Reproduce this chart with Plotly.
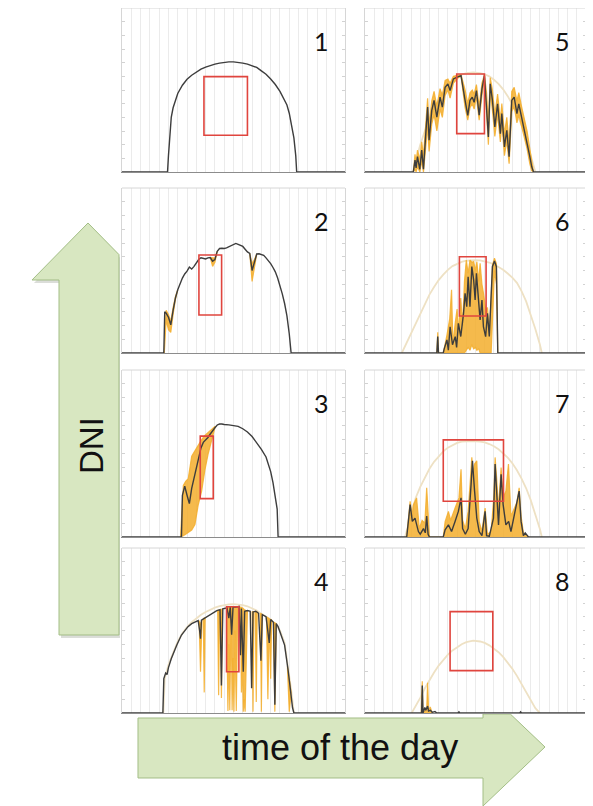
import plotly.graph_objects as go

# ---------------- data (hours of the day, DNI in W/m2) ----------------
HOUR_RANGE = [0, 24]
DNI_RANGE = [0, 1200]
PANEL_LABELS = ["1", "2", "3", "4", "5", "6", "7", "8"]

# panel 1 - clear day
P1_T = [0, 4.9, 5.0, 5.15, 5.3, 5.5, 5.75, 6.0, 6.5, 7.0, 7.5, 8.0, 8.5, 9.0, 9.5, 10.0, 10.5, 11.0, 11.5,
        12.0, 12.5, 13.0, 13.5, 14.0, 14.5, 15.0, 15.5, 16.0, 16.5, 17.0, 17.5, 17.75, 18.0, 18.25, 18.5,
        18.7, 18.8, 24]
P1_DNI = [0, 0, 120, 300, 400, 470, 530, 575, 635, 678, 708, 733, 752, 767, 779, 789, 797, 803, 806,
          806, 803, 797, 789, 778, 765, 740, 715, 680, 640, 590, 530, 490, 430, 350, 250,
          120, 0, 0]

# panel 2
P2_T = [0, 4.5, 4.6, 4.75, 5.0, 5.25, 5.5, 5.75, 6.0, 6.25, 6.5, 6.75, 7.0, 7.25, 7.5, 7.75, 8.0, 8.25,
        8.5, 8.75, 9.0, 9.25, 9.5, 9.75, 10.0, 10.25, 10.5, 10.75, 11.0, 11.25, 11.5, 11.75, 12.0, 12.25,
        12.5, 12.75, 13.0, 13.25, 13.5, 13.75, 14.0, 14.25, 14.5, 14.75, 15.0, 15.25, 15.5, 15.75, 16.0,
        16.25, 16.5, 16.75, 17.0, 17.25, 17.5, 17.75, 18.0, 18.2, 24]
P2_DNI = [0, 0, 300, 290, 260, 205, 310, 400, 460, 510, 545, 575, 595, 625, 610, 630, 655, 680,
          693, 686, 684, 692, 694, 668, 680, 740, 760, 762, 760, 765, 772, 778, 785, 797,
          790, 782, 775, 755, 735, 725, 600, 660, 720, 722, 717, 710, 692, 672, 650,
          622, 590, 545, 490, 430, 360, 270, 140, 0, 0]
# band segments are separated by None
P2_BAND_T = [4.55, 4.75, 5.0, 5.25, 5.5, 5.75, 6.0, None, 9.5, 9.75, 10.0, 10.25, None,
             13.75, 14.0, 14.25, 14.5]
P2_BAND_HI = [0, 310, 280, 230, 330, 410, 460, None, 694, 690, 690, 740, None, 725, 650, 680, 720]
P2_BAND_LO = [0, 240, 170, 150, 280, 390, 460, None, 694, 630, 660, 740, None, 725, 520, 620, 720]

# panel 3
P3_T = [0, 6.4, 6.5, 6.75, 7.0, 7.25, 7.5, 7.75, 8.0, 8.25, 8.5, 8.75, 9.0, 9.25, 9.5, 9.75, 10.0, 10.25,
        10.5, 10.75, 11.0, 11.5, 12.0, 12.5, 13.0, 13.5, 14.0, 14.5, 15.0, 15.5, 16.0, 16.25, 16.5, 16.7,
        16.8, 24]
P3_DNI = [0, 0, 300, 365, 300, 240, 350, 420, 490, 560, 640, 680, 695, 715, 740, 765, 785, 805,
          812, 812, 808, 806, 803, 795, 778, 755, 722, 680, 630, 575, 470, 390, 300, 200,
          0, 0]
P3_BAND_T = [6.3, 6.35, 6.6, 6.85, 7.13, 7.5, 7.85, 8.2, 8.57, 8.92, 9.28, 9.64, 10.0]
P3_BAND_HI = [0, 50, 370, 400, 420, 580, 620, 660, 700, 730, 750, 775, 795]
P3_BAND_LO = [0, 0, 10, 20, 30, 50, 90, 230, 330, 480, 600, 700, 785]

# panel 4
P4_T = [0, 4.4, 4.5, 4.7, 4.85, 5.0, 5.3, 5.6, 5.9, 6.4, 6.8, 7.1, 7.5, 7.85, 8.2, 8.35, 8.45, 8.55, 9.1,
        9.6, 10.2, 10.55, 10.7, 10.85, 11.3, 11.5, 11.65, 11.8, 11.95, 12.2, 12.6, 12.75, 12.85, 13.05,
        13.2, 13.5, 13.8, 13.95, 14.1, 14.4, 14.7, 14.95, 15.1, 15.5, 15.85, 16.0, 16.3, 16.45, 16.6,
        16.8, 17.1, 17.5, 17.9, 18.1, 18.24, 18.35, 18.5, 24]
P4_DNI = [0, 0, 250, 290, 280, 330, 395, 450, 495, 567, 605, 628, 650, 664, 672, 600, 540, 675, 700,
          722, 745, 752, 200, 758, 765, 690, 770, 570, 772, 770, 775, 420, 760, 300,
          740, 745, 740, 180, 735, 740, 725, 380, 715, 700, 510, 680, 660, 60, 650,
          628, 570, 494, 300, 180, 131, 40, 0, 0]
P4_BAND_T = [8.3, 8.45, 8.6, None, 8.75, 8.85, 8.95, None, 10.3, 10.4, 10.5, None, 10.6, 10.7, 10.8, None,
             11.25, 11.4, 11.5, 11.6, 11.75, 11.85, 11.95, 12.05, 12.15, 12.3, 12.45, None,
             12.75, 12.85, 12.95, 13.05, 13.15, 13.25, 13.35, 13.5, None,
             14.0, 14.1, 14.2, None, 14.35, 14.45, 14.55, None, 14.9, 15.0, 15.1, None,
             15.55, 15.7, 15.85, 16.0, 16.1, None, 16.3, 16.45, 16.6, None, 17.8, 18.0, 18.2]
P4_BAND_HI = [672, 640, 676, None, 688, 690, 692, None, 747, 748, 750, None, 752, 754, 756, None,
              764, 766, 767, 768, 770, 770, 771, 771, 771, 772, 773, None,
              773, 770, 765, 760, 752, 748, 745, 745, None,
              738, 736, 737, None, 739, 738, 735, None, 725, 722, 716, None,
              698, 692, 686, 680, 675, None, 662, 655, 650, None, 340, 250, 150]
P4_BAND_LO = [672, 300, 676, None, 688, 150, 692, None, 747, 130, 750, None, 752, 110, 756, None,
              764, 15, 500, 20, 770, 20, 400, 10, 600, 15, 773, None,
              773, 150, 400, 10, 100, 10, 300, 745, None,
              738, 10, 737, None, 739, 80, 735, None, 725, 10, 716, None,
              698, 100, 686, 250, 675, None, 662, 10, 650, None, 340, 10, 150]
P4_CLEAR_T = [4.45, 4.6, 5.0, 5.5, 6.0, 6.5, 7.0, 7.5, 8.0, 8.5, 9.0, 9.5, 10.0, 10.5, 11.0, 11.5, 12.0,
              12.5, 13.0, 13.5, 14.0, 14.5, 15.0, 15.5, 16.0, 16.5, 17.0, 17.5, 17.9, 18.2, 18.5]
P4_CLEAR = [0, 250, 350, 440, 520, 580, 625, 660, 690, 715, 735, 752, 766, 777, 785, 790, 792,
            790, 785, 776, 763, 745, 722, 700, 680, 645, 600, 510, 330, 170, 0]

# panel 5
P5_T = [0, 5.25, 5.43, 5.55, 5.7, 5.95, 6.16, 6.35, 6.6, 6.8, 6.96, 7.25, 7.5, 7.8, 8.15, 8.4, 8.7, 9.0,
        9.24, 9.6, 10.14, 10.43, 10.87, 11.16, 11.4, 11.65, 11.85, 12.1, 12.4, 12.7, 12.97, 13.2, 13.4,
        13.6, 13.84, 14.1, 14.4, 14.7, 14.86, 15.14, 15.4, 15.65, 15.94, 16.2, 16.5, 16.7, 17.0, 17.3,
        17.6, 17.9, 18.1, 18.3, 24]
P5_DNI = [0, 0, 87, 30, 112, 20, 160, 20, 281, 475, 233, 451, 524, 402, 548, 475, 620, 645,
          596, 681, 698, 705, 524, 415, 524, 548, 510, 596, 415, 608, 705, 499, 257,
          645, 524, 330, 499, 281, 427, 184, 305, 112, 524, 548, 427, 499, 402, 330,
          233, 112, 40, 0, 0]
P5_BAND_T = [5.25, 5.43, 5.55, 5.7, 5.95, 6.16, 6.35, 6.6, 6.8, 6.96, 7.25, 7.5, 7.8, 8.15, 8.4, 8.7,
             9.0, 9.24, 9.6, 10.14, 10.43, 10.87, 11.16, 11.4, 11.65, 11.85, 12.1, 12.4, 12.7, 12.97,
             13.2, 13.4, 13.6, 13.84, 14.1, 14.4, 14.7, 14.86, 15.14, 15.4, 15.65, 15.94, 16.2, 16.5,
             16.7, 17.0, 17.3, 17.6, 17.9, 18.1, 18.3]
P5_BAND_HI = [0, 130, 60, 160, 90, 220, 120, 380, 540, 340, 520, 590, 480, 610, 560, 670,
              680, 650, 700, 710, 712, 600, 500, 580, 600, 570, 640, 480, 650, 712,
              580, 360, 690, 600, 420, 570, 380, 500, 280, 400, 200, 590, 620, 520,
              580, 480, 400, 300, 170, 80, 0]
P5_BAND_LO = [0, 20, 0, 40, 0, 80, 0, 180, 330, 150, 350, 420, 300, 460, 400, 560,
              600, 540, 650, 690, 700, 470, 380, 470, 500, 460, 550, 380, 560, 690,
              420, 200, 590, 450, 260, 420, 220, 360, 120, 230, 60, 440, 480, 360,
              420, 330, 260, 170, 60, 10, 0]
P5_CLEAR_T = [5.2, 5.6, 6.0, 6.5, 7.0, 7.5, 8.0, 8.5, 9.0, 9.5, 10.0, 10.5, 11.0, 11.75, 12.5, 13.0,
              13.5, 14.0, 14.5, 15.0, 15.5, 16.0, 16.5, 17.0, 17.5, 18.0, 18.5]
P5_CLEAR = [0, 100, 200, 300, 390, 460, 530, 585, 630, 665, 695, 713, 724, 728, 724, 715,
            700, 675, 645, 605, 555, 495, 425, 340, 240, 120, 0]

# panel 6
P6_T = [0, 7.8, 7.9, 7.98, 8.5, 8.6, 8.9, 9.05, 9.24, 9.5, 9.8, 9.95, 10.14, 10.4, 10.7, 10.87, 11.05,
        11.2, 11.4, 11.6, 11.8, 11.96, 12.1, 12.3, 12.5, 12.7, 12.86, 13.1, 13.3, 13.5, 13.7, 13.84,
        14.06, 14.27, 14.35, 14.42, 24]
P6_DNI = [0, 0, 119, 0, 0, 30, 95, 20, 191, 60, 119, 40, 216, 120, 288, 434, 337,
          555, 337, 628, 531, 385, 579, 434, 240, 385, 191, 119, 288, 120, 385, 628,
          669, 628, 300, 0, 0]
P6_BAND_T = [7.8, 7.9, 8.0, 8.5, 8.9, 9.2, 9.4, 9.55, 9.8, 10.0, 10.15, 10.4, 10.6, 10.8, 11.0, 11.2,
             11.4, 11.6, 11.8, 12.0, 12.15, 12.35, 12.5, 12.7, 12.9, 13.1, 13.3, 13.5, 13.7, 13.84,
             14.06, 14.27, 14.42]
P6_BAND_HI = [0, 150, 0, 0, 130, 250, 460, 60, 220, 320, 150, 400, 200, 520, 676, 580,
              676, 660, 665, 600, 664, 520, 652, 500, 420, 320, 330, 160, 400, 640,
              690, 650, 0]
P6_BAND_LO = [0, 0, 0, 0, 0, 0, 0, 0, 0, 0, 0, 0, 0, 0, 20, 40,
              20, 60, 30, 40, 20, 30, 0, 0, 0, 0, 0, 0, 0, 300,
              600, 500, 0]
P6_CLEAR_T = [4.0, 4.5, 5.0, 5.5, 6.0, 6.5, 7.0, 7.5, 8.0, 8.5, 9.0, 9.5, 10.0, 10.5, 11.0, 11.5, 12.0,
              12.5, 13.0, 13.5, 14.0, 14.5, 15.0, 15.5, 16.0, 16.5, 17.0, 17.5, 18.0, 18.5, 19.0, 19.2]
P6_CLEAR = [0, 70, 140, 215, 290, 360, 425, 480, 530, 570, 605, 632, 650, 663, 671, 675, 676,
            674, 668, 658, 645, 627, 605, 578, 548, 510, 450, 375, 280, 175, 60, 0]

# panel 7
P7_T = [0, 4.53, 4.9, 5.14, 5.43, 5.8, 6.0, 6.35, 6.55, 6.7, 6.85, 7.0, 8.5, 8.7, 9.06, 9.4, 9.78, 10.14,
        10.43, 10.6, 10.9, 11.2, 11.52, 11.67, 11.9, 12.14, 12.4, 12.7, 13.04, 13.2, 13.5, 13.95, 14.13,
        14.3, 14.5, 14.78, 15.0, 15.3, 15.6, 15.85, 16.2, 16.74, 16.95, 17.2, 17.4, 17.75, 24]
P7_DNI = [0, 0, 233, 112, 136, 39, 20, 60, 30, 150, 20, 0, 0, 51, 87, 40, 112, 184,
          281, 60, 20, 60, 378, 548, 330, 136, 39, 10, 184, 10, 5, 136, 524,
          281, 87, 451, 233, 87, 112, 39, 160, 330, 112, 10, 30, 0, 0]
P7_BAND_T = [4.53, 4.9, 5.14, 5.25, 5.6, 5.9, 6.2, 6.5, 6.7, 6.9, 7.0, 8.5, 8.7, 9.06, 9.3, 9.78, 10.2,
             10.43, 10.6, 10.9, 11.2, 11.45, 11.6, 11.75, 11.9, 12.14, 12.4, 12.7, 13.04, 13.3, 13.7,
             14.0, 14.13, 14.3, 14.5, 14.78, 15.0, 15.3, 15.58, 15.85, 16.2, 16.5, 16.74, 16.95, 17.2,
             17.75]
P7_BAND_HI = [0, 257, 150, 230, 281, 60, 120, 100, 354, 30, 0, 0, 110, 184, 120, 208, 281,
              487, 120, 60, 184, 420, 572, 450, 524, 548, 110, 40, 208, 20, 40,
              300, 572, 420, 200, 499, 280, 330, 524, 150, 210, 250, 354, 150, 30,
              0]
P7_CLEAR_T = [4.35, 5.0, 5.5, 6.0, 6.5, 7.0, 7.5, 8.0, 8.5, 9.0, 9.5, 10.0, 10.5, 11.0, 11.7, 12.5, 13.0,
              13.5, 14.0, 14.5, 15.0, 15.5, 16.0, 16.5, 17.0, 17.5, 18.0, 18.5, 19.0, 19.2]
P7_CLEAR = [0, 170, 280, 360, 430, 490, 540, 580, 615, 642, 662, 676, 685, 689, 690, 686, 680,
            668, 652, 630, 603, 570, 530, 480, 420, 350, 265, 165, 55, 0]

# panel 8
P8_T = [0, 6.15, 6.22, 6.3, 6.5, 6.6, 6.8, 6.9, 7.1, 7.3, 7.6, 7.8, 10.1, 10.2, 10.3, 16.8, 16.9, 17.0, 24]
P8_DNI = [0, 0, 200, 0, 40, 20, 50, 15, 20, 5, 10, 0, 0, 8, 0, 0, 8, 0, 0]
P8_BAND_T = [6.1, 6.22, 6.3, 6.7, 6.8, 6.9, 7.1, 7.3]
P8_BAND_HI = [0, 230, 0, 30, 220, 30, 40, 0]
P8_CLEAR_T = [5.07, 5.5, 6.0, 6.5, 7.0, 7.5, 8.0, 8.5, 9.0, 9.5, 10.0, 10.5, 11.0, 11.75, 12.5, 13.0,
              13.5, 14.0, 14.5, 15.0, 15.5, 16.0, 16.5, 17.0, 17.5, 18.0, 18.5, 19.0]
P8_CLEAR = [0, 50, 110, 180, 240, 295, 345, 388, 425, 455, 480, 500, 515, 526, 520, 510,
            492, 470, 442, 408, 368, 322, 270, 212, 150, 90, 35, 0]

# highlighted windows (red boxes): start/end hour, low/high DNI
BOX_T0 = [8.82, 8.28, 8.42, 11.25, 9.96, 10.25, 8.5, 9.24]
BOX_T1 = [13.5, 10.72, 9.82, 12.58, 12.97, 13.15, 15.04, 13.88]
BOX_LO = [269, 276, 276, 300, 281, 269, 257, 308]
BOX_HI = [698, 713, 725, 773, 717, 700, 698, 737]

AXIS_Y_LABEL = "DNI"
AXIS_X_LABEL = "time of the day"

PANELS = [
    dict(t=P1_T, dni=P1_DNI, band=None, clear=None),
    dict(t=P2_T, dni=P2_DNI, band=(P2_BAND_T, P2_BAND_HI, P2_BAND_LO), clear=None),
    dict(t=P3_T, dni=P3_DNI, band=(P3_BAND_T, P3_BAND_HI, P3_BAND_LO), clear=None),
    dict(t=P4_T, dni=P4_DNI, band=(P4_BAND_T, P4_BAND_HI, P4_BAND_LO), clear=(P4_CLEAR_T, P4_CLEAR)),
    dict(t=P5_T, dni=P5_DNI, band=(P5_BAND_T, P5_BAND_HI, P5_BAND_LO), clear=(P5_CLEAR_T, P5_CLEAR)),
    dict(t=P6_T, dni=P6_DNI, band=(P6_BAND_T, P6_BAND_HI, P6_BAND_LO), clear=(P6_CLEAR_T, P6_CLEAR)),
    dict(t=P7_T, dni=P7_DNI, band=(P7_BAND_T, P7_BAND_HI, None), clear=(P7_CLEAR_T, P7_CLEAR)),
    dict(t=P8_T, dni=P8_DNI, band=(P8_BAND_T, P8_BAND_HI, None), clear=(P8_CLEAR_T, P8_CLEAR)),
]

# ---------------- layout geometry (page pixels) ----------------
PAGE_W, PAGE_H = 593, 806
OFF = 8                      # default body margin of the html page
W, H = PAGE_W - OFF, PAGE_H - OFF
COL_X = [(122, 345), (365, 586)]
ROW_Y = [(8, 172), (188, 353), (370, 537), (548, 713)]

BLACK = "#3d3d3d"
BAND = "rgba(243,174,45,0.85)"
CLEAR = "#eee1c4"
RED = "#e0453e"
ARROW_FILL = "#d8e7c1"
ARROW_LINE = "#a3be86"


def px(xp):
    return (xp - OFF) / W


def py(yp):
    return 1 - (yp - OFF) / H


def segments(t, hi, lo):
    """split band lists at None entries and build closed polygons"""
    xs, ys = [], []
    cur = []
    for j in range(len(t) + 1):
        if j == len(t) or t[j] is None:
            if cur:
                st = [t[m] for m in cur]
                sh = [hi[m] for m in cur]
                if lo is None:
                    sx = [st[0]] + st + [st[-1]]
                    sy = [0] + sh + [0]
                else:
                    sl = [lo[m] for m in cur]
                    sx = st + st[::-1]
                    sy = sh + sl[::-1]
                if xs:
                    xs.append(None)
                    ys.append(None)
                xs += sx
                ys += sy
            cur = []
        else:
            cur.append(j)
    return xs, ys


fig = go.Figure()
layout = dict(width=W, height=H, margin=dict(l=0, r=0, t=0, b=0),
              paper_bgcolor="white", plot_bgcolor="white", showlegend=False)
shapes = []
annotations = []

for i, p in enumerate(PANELS):
    k = i + 1
    sfx = "" if k == 1 else str(k)
    xa, ya = "x" + sfx, "y" + sfx
    col = 0 if k <= 4 else 1
    row = (k - 1) % 4
    layout["xaxis" + sfx] = dict(
        domain=[px(COL_X[col][0]), px(COL_X[col][1])], range=HOUR_RANGE, anchor=ya,
        tick0=0, dtick=1, showgrid=True, gridcolor="#ebebeb", gridwidth=1,
        showticklabels=False, ticks="", showline=True, linecolor="#8c8c8c", linewidth=1.3,
        zeroline=False, fixedrange=True)
    layout["yaxis" + sfx] = dict(
        domain=[py(ROW_Y[row][1]), py(ROW_Y[row][0])], range=DNI_RANGE, anchor=xa,
        showgrid=False, showticklabels=False, ticks="inside", ticklen=3, tickcolor="#d2d2d2",
        dtick=100, showline=True, linecolor="#d6d6d6", linewidth=1, mirror="ticks",
        zeroline=False, fixedrange=True)

    if p["clear"] is not None:
        ct, cv = p["clear"]
        fig.add_trace(go.Scatter(x=ct, y=cv, mode="lines", line=dict(color=CLEAR, width=1.8),
                                 xaxis=xa, yaxis=ya, hoverinfo="skip"))
    if p["band"] is not None:
        bx, by = segments(*p["band"])
        fig.add_trace(go.Scatter(x=bx, y=by, mode="lines", fill="toself", fillcolor=BAND,
                                 line=dict(color=BAND, width=1.2), xaxis=xa, yaxis=ya,
                                 connectgaps=False, hoverinfo="skip"))
    fig.add_trace(go.Scatter(x=p["t"], y=p["dni"], mode="lines",
                             line=dict(color=BLACK, width=1.4), xaxis=xa, yaxis=ya,
                             hoverinfo="skip"))

    # top frame edge
    shapes.append(dict(type="line", xref=xa + " domain", yref=ya + " domain",
                       x0=0, x1=1, y0=1, y1=1, line=dict(color="#d6d6d6", width=1)))
    # highlighted window
    shapes.append(dict(type="rect", xref=xa, yref=ya, x0=BOX_T0[i], x1=BOX_T1[i],
                       y0=BOX_LO[i], y1=BOX_HI[i], line=dict(color=RED, width=1.6),
                       fillcolor="rgba(0,0,0,0)", layer="above"))
    annotations.append(dict(text=PANEL_LABELS[i], xref=xa + " domain", yref=ya + " domain",
                            x=0.895, y=0.8, xanchor="center", yanchor="middle", showarrow=False,
                            font=dict(family="Lato, Noto Sans, sans-serif", size=25, color="#111111")))


def path(points):
    return "M " + " L ".join(f"{px(a):.5f},{py(b):.5f}" for a, b in points) + " Z"


dni_arrow = [(59, 635), (59, 280), (32, 280), (88, 223), (119, 254.6), (119, 635)]
time_arrow = [(138, 718), (483, 718), (483, 714), (510.3, 714), (545, 747), (483, 806),
              (483, 778), (138, 778)]

for pts in (dni_arrow, time_arrow):
    shadow = [(min(a + 2, 120), b + 3) for a, b in pts]
    shapes.append(dict(type="path", xref="paper", yref="paper", path=path(shadow),
                       fillcolor="rgba(90,100,80,0.22)", line=dict(width=0), layer="below"))
    shapes.append(dict(type="path", xref="paper", yref="paper", path=path(pts),
                       fillcolor=ARROW_FILL, line=dict(color=ARROW_LINE, width=1), layer="below"))

annotations.append(dict(text=AXIS_Y_LABEL, xref="paper", yref="paper", x=px(91), y=py(446),
                        xanchor="center", yanchor="middle", textangle=-90, showarrow=False,
                        font=dict(family="Liberation Sans, Arial, sans-serif", size=33, color="#111111")))
annotations.append(dict(text=AXIS_X_LABEL, xref="paper", yref="paper", x=px(340), y=py(747),
                        xanchor="center", yanchor="middle", showarrow=False,
                        font=dict(family="Liberation Sans, Arial, sans-serif", size=36, color="#111111")))

layout["shapes"] = shapes
layout["annotations"] = annotations
fig.update_layout(**layout)
fig.write_html("out.html")
